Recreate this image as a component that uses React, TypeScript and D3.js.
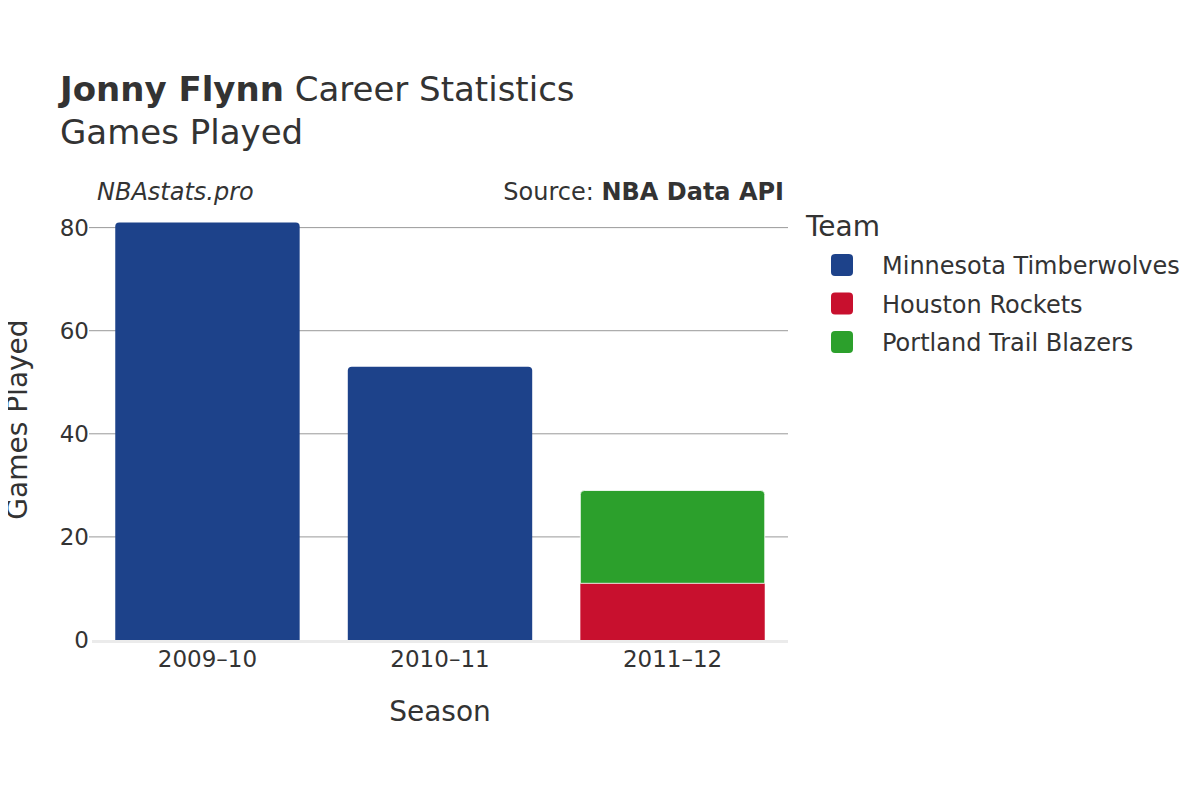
import React, { useEffect, useRef } from 'react';
import * as d3 from 'd3';

const seasons = ['2009–10', '2010–11', '2011–12'];
const teams = ['Minnesota Timberwolves', 'Houston Rockets', 'Portland Trail Blazers'];
const teamColors = ['#1d428a', '#c8102e', '#2ca02c'];
// games per season, one array per team
const minGames = [81, 53, 0];
const houGames = [0, 0, 11];
const porGames = [0, 0, 18];
const yTicks = [0, 20, 40, 60, 80];

const FONT = '"DejaVu Sans", sans-serif';

export default function App() {
  const ref = useRef<SVGSVGElement>(null);

  useEffect(() => {
    const svg = d3.select(ref.current);
    svg.selectAll('*').remove();

    const margin = { top: 207, left: 92, right: 412, bottom: 160 };
    const width = 1200 - margin.left - margin.right;
    const height = 800 - margin.top - margin.bottom;

    const x = d3.scaleBand().domain(seasons).range([margin.left, margin.left + width])
      .paddingInner(0.207).paddingOuter(0.1);
    const y = d3.scaleLinear().domain([0, 84]).range([margin.top + height, margin.top]);

    svg.append('rect').attr('width', 1200).attr('height', 800).attr('fill', '#fff');

    // titles
    const t = svg.append('text').attr('x', 60).attr('y', 101).attr('font-size', 34).attr('fill', '#333').attr('font-family', FONT);
    t.append('tspan').attr('font-weight', 'bold').text('Jonny Flynn');
    t.append('tspan').text(' Career Statistics');
    svg.append('text').attr('x', 60).attr('y', 144).attr('font-size', 34).attr('fill', '#333').attr('font-family', FONT).text('Games Played');

    svg.append('text').attr('x', 97).attr('y', 200).attr('font-size', 24).attr('font-style', 'italic').attr('fill', '#333').attr('font-family', FONT).text('NBAstats.pro');
    const src = svg.append('text').attr('x', 784).attr('y', 200).attr('font-size', 24).attr('text-anchor', 'end').attr('fill', '#333').attr('font-family', FONT);
    src.append('tspan').text('Source: ');
    src.append('tspan').attr('font-weight', 'bold').text('NBA Data API');

    // grid
    svg.append('g').selectAll('line').data(yTicks.filter(d => d > 0)).join('line')
      .attr('x1', margin.left - 3).attr('x2', margin.left + width)
      .attr('y1', d => y(d)).attr('y2', d => y(d))
      .attr('stroke', '#999').attr('stroke-width', 1);

    svg.append('g').selectAll('text').data(yTicks).join('text')
      .attr('x', margin.left - 3).attr('y', d => y(d) + 8)
      .attr('text-anchor', 'end').attr('font-size', 23).attr('fill', '#333').attr('font-family', FONT)
      .text(d => d);

    // bars
    const stacked = d3.stack<number>().keys([0, 1, 2].map(String))
      .value((i, k) => [minGames, houGames, porGames][+k][i])(seasons.map((_, i) => i));

    const r = 4;
    const barPath = (x0: number, w: number, y0: number, y1: number, round: boolean) => {
      if (!round) return `M${x0},${y0}H${x0 + w}V${y1}H${x0}Z`;
      return `M${x0},${y0}V${y1 + r}Q${x0},${y1} ${x0 + r},${y1}H${x0 + w - r}Q${x0 + w},${y1} ${x0 + w},${y1 + r}V${y0}Z`;
    };

    seasons.forEach((s, i) => {
      const total = minGames[i] + houGames[i] + porGames[i];
      stacked.forEach((layer, k) => {
        const [a, b] = layer[i];
        if (b - a <= 0) return;
        svg.append('path')
          .attr('d', barPath(x(s)!, x.bandwidth(), y(a), y(b), b === total))
          .attr('fill', teamColors[k])
          .attr('stroke', '#fff').attr('stroke-width', a > 0 ? 0.8 : 0);
      });
    });

    // zero line
    svg.append('line').attr('x1', margin.left).attr('x2', margin.left + width)
      .attr('y1', y(0) + 1.5).attr('y2', y(0) + 1.5).attr('stroke', '#ebebeb').attr('stroke-width', 3);

    svg.append('g').selectAll('text').data(seasons).join('text')
      .attr('x', d => x(d)! + x.bandwidth() / 2).attr('y', 667)
      .attr('text-anchor', 'middle').attr('font-size', 23).attr('fill', '#333').attr('font-family', FONT)
      .text(d => d);

    svg.append('text').attr('x', margin.left + width / 2).attr('y', 721).attr('text-anchor', 'middle')
      .attr('font-size', 28).attr('fill', '#333').attr('font-family', FONT).text('Season');
    svg.append('text').attr('transform', `translate(27,${margin.top + height / 2 - 4}) rotate(-90)`).attr('text-anchor', 'middle')
      .attr('font-size', 28).attr('fill', '#333').attr('font-family', FONT).text('Games Played');

    // legend
    svg.append('text').attr('x', 806).attr('y', 236).attr('font-size', 28).attr('fill', '#333').attr('font-family', FONT).text('Team');
    const lg = svg.append('g').selectAll('g').data(teams).join('g')
      .attr('transform', (_, i) => `translate(0,${265 + i * 38.5})`);
    lg.append('rect').attr('x', 831).attr('y', -11).attr('width', 22).attr('height', 22).attr('rx', 4)
      .attr('fill', (_, i) => teamColors[i]);
    lg.append('text').attr('x', 882).attr('y', 9).attr('font-size', 24).attr('fill', '#333').attr('font-family', FONT)
      .text(d => d);
  }, []);

  return <svg ref={ref} width={1200} height={800} style={{ display: 'block', margin: -8 }} />;
}
